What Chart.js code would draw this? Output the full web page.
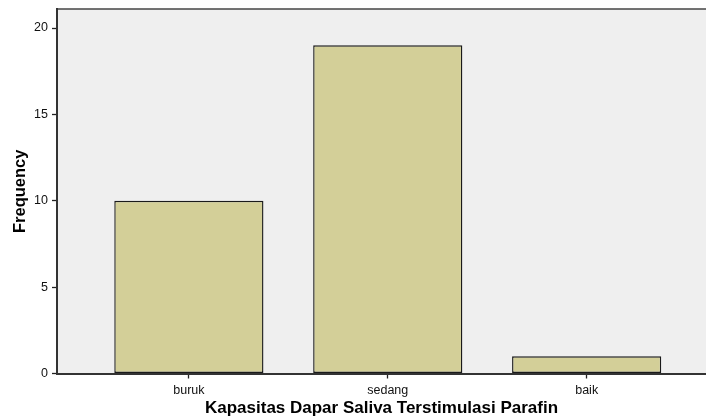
<!DOCTYPE html>
<html lang="en">
  <head>
    <meta charset="UTF-8" />
    <script src="https://cdn.jsdelivr.net/npm/chart.js@4/dist/chart.umd.min.js"></script>
    <style>
      body {
        margin: 0;
        background: white;
      }
      #chart-container {
        width: 706px;
        height: 420px;
      }
    </style>
    <title>Kapasitas Dapar Saliva</title>
  </head>
  <body>
    <div id="chart-container">
      <canvas id="chart"></canvas>
    </div>
    <script>
      const categories = ["buruk", "sedang", "baik"];
      const frequencies = [10, 19, 1];
      const yTicks = [0, 5, 10, 15, 20];

      const font = "'Liberation Sans', Arial, sans-serif";

      // grey plot background + top frame line
      const plotBg = {
        id: "plot_bg",
        beforeDraw: (chart) => {
          const { ctx, chartArea: a } = chart;
          ctx.save();
          ctx.fillStyle = "#efefef";
          ctx.fillRect(a.left, a.top, a.right - a.left, a.bottom - a.top);
          ctx.strokeStyle = "#444";
          ctx.lineWidth = 1.5;
          ctx.beginPath();
          ctx.moveTo(a.left, a.top);
          ctx.lineTo(a.right, a.top);
          ctx.stroke();
          ctx.restore();
        },
      };

      const config = {
        type: "bar",
        data: {
          datasets: [
            {
              label: "Frequency",
              data: frequencies.map((v, i) => ({ x: i, y: v })),
              backgroundColor: "#d3cf98",
              borderColor: "#1a1a1a",
              borderWidth: 1.4,
              borderSkipped: false,
              barPercentage: 0.75,
              categoryPercentage: 1,
            },
          ],
        },
        options: {
          responsive: true,
          maintainAspectRatio: false,
          animation: false,
          layout: { padding: { top: 9, right: 0, left: 0, bottom: 0 } },
          plugins: {
            legend: { display: false },
            tooltip: { enabled: false },
          },
          scales: {
            x: {
              type: "linear",
              offset: false,
              min: -0.663,
              max: 2.6,
              afterBuildTicks: (scale) => {
                scale.ticks = categories.map((c, i) => ({ value: i }));
              },
              afterFit: (scale) => {
                scale.height = 46.5;
              },
              grid: {
                offset: false,
                drawOnChartArea: false,
                drawTicks: true,
                tickLength: 5,
                tickColor: "#222",
                tickWidth: 1.3,
              },
              border: { color: "#333", width: 2 },
              ticks: {
                padding: 5,
                color: "#111",
                font: { family: font, size: 12.5 },
                maxRotation: 0,
                callback: (v) => categories[v],
              },
              title: {
                display: true,
                text: "Kapasitas Dapar Saliva Terstimulasi Parafin",
                color: "#000",
                font: { family: font, size: 17, weight: "bold" },
                padding: { top: 0, bottom: 1 },
              },
            },
            y: {
              min: 0,
              max: 21.1,
              afterBuildTicks: (scale) => {
                scale.ticks = yTicks.map((v) => ({ value: v }));
              },
              afterFit: (scale) => {
                scale.width = 57;
                scale.paddingTop = 0;
                scale.paddingBottom = 0;
              },
              grid: {
                drawOnChartArea: false,
                drawTicks: true,
                tickLength: 5,
                tickColor: "#222",
                tickWidth: 1.3,
              },
              border: { color: "#333", width: 2 },
              ticks: {
                padding: 4,
                color: "#111",
                font: { family: font, size: 12.5 },
              },
              title: {
                display: true,
                text: "Frequency",
                color: "#000",
                font: { family: font, size: 16.5, weight: "bold" },
                padding: { top: 11, bottom: 0 },
              },
            },
          },
        },
        plugins: [plotBg],
      };

      const chart = new Chart(document.getElementById("chart"), config);
    </script>
  </body>
</html>
